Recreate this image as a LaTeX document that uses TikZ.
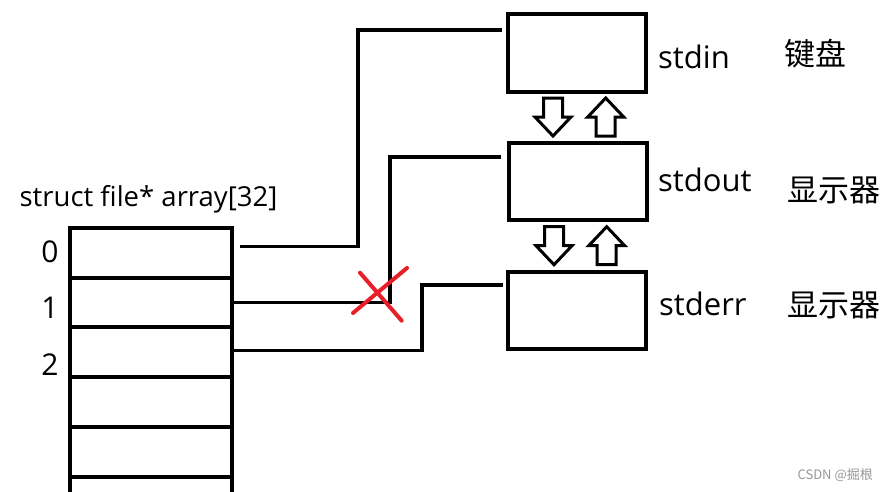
\documentclass[tikz,border=0pt]{standalone}
\usepackage{fontspec}
\setmainfont{Open Sans}
\newfontfamily\cjk{Noto Sans CJK SC}
\definecolor{xred}{RGB}{232,30,40}
\definecolor{wm}{RGB}{150,150,150}
\tikzset{
  cell/.style={draw, line width=4pt, minimum width=162pt, minimum height=49.8pt, inner sep=0pt, outer sep=0pt, anchor=north west},
  devbox/.style={draw, line width=4pt, minimum width=138pt, minimum height=77.5pt, inner sep=0pt, outer sep=0pt, anchor=north west},
  conn/.style={line width=3.5pt},
  lbl/.style={font=\fontsize{31}{36}\selectfont, inner sep=0pt},
  idx/.style={font=\fontsize{30}{36}\selectfont, inner sep=0pt},
  dnarrow/.pic={\draw[line width=3pt, miter limit=10] (-9.5,0) -- (9.5,0) -- (9.5,19) -- (18,19) -- (0,38) -- (-18,19) -- (-9.5,19) -- cycle;},
  uparrow/.pic={\draw[line width=3pt, miter limit=10] (-9.5,38) -- (9.5,38) -- (9.5,19) -- (18,19) -- (0,0) -- (-18,19) -- (-9.5,19) -- cycle;}
}
\begin{document}
\begin{tikzpicture}[x=1pt, y=-1pt]
\useasboundingbox (0,0) rectangle (889,491);
% array
\node[cell] (c0) at (70,227.7) {};
\node[cell] (c1) at (70,277.5) {};
\node[cell] (c2) at (70,327.3) {};
\node[cell] (c3) at (70,377.1) {};
\node[cell] (c4) at (70,426.9) {};
\coordinate (bl) at (70,500);
\coordinate (br) at (232,500);
\draw[line width=4pt] (c4.south west) -- (bl);
\draw[line width=4pt] (c4.south east) -- (br);
\node[lbl, font=\fontsize{27.5}{32}\selectfont, anchor=base] (title) at (148.5,206.7) {struct file* array[32]};
\node[idx] (i0) at (50,252) {0};
\node[idx] (i1) at (50,308) {1};
\node[idx] (i2) at (50,365) {2};
% device boxes
\node[devbox] (in) at (508,14) {};
\node[devbox] (out) at (508.5,142.7) {};
\node[devbox] (err) at (508,271.7) {};
\node[lbl, anchor=base west] (tin) at (658,68.3) {stdin};
\node[lbl, anchor=base west] (tout) at (658,191.7) {stdout};
\node[lbl, anchor=base west] (terr) at (659,315) {stderr};
\node[lbl, font=\cjk\fontsize{31}{36}\selectfont] (kb) at (815,53.3) {键盘};
\node[lbl, font=\cjk\fontsize{31}{36}\selectfont] (d1) at (834,190) {显示器};
\node[lbl, font=\cjk\fontsize{31}{36}\selectfont] (d2) at (834,305) {显示器};
% arrows between boxes
\pic at (553,98) {dnarrow};
\pic at (605.7,98) {uparrow};
\pic at (554,226.7) {dnarrow};
\pic at (606.7,226.7) {uparrow};
% connectors
\draw[conn] ([xshift=8pt,yshift=6pt]c0.east) -- ++(118,0) |- ([xshift=-6pt,yshift=23pt]in.west);
\draw[conn] ([yshift=-0.3pt]c1.east) -- ++(158,0) |- ([xshift=-8pt,yshift=24.6pt]out.west);
\draw[conn] ([yshift=1.5pt]c2.east) -- ++(190,0) |- ([xshift=-5pt,yshift=25.5pt]err.west);
% red cross
\coordinate (xa1) at (353,313);
\coordinate (xa2) at (407,268);
\coordinate (xb1) at (360,272.7);
\coordinate (xb2) at (401.7,320.7);
\draw[xred, line width=4pt, line cap=round] (xa1) -- (xa2);
\draw[xred, line width=4pt, line cap=round] (xb1) -- (xb2);
% watermark
\node[inner sep=0pt, anchor=east, text=wm, font=\cjk\fontsize{13}{15}\selectfont] (wmk) at (873,475) {CSDN @掘根};
\end{tikzpicture}
\end{document}
